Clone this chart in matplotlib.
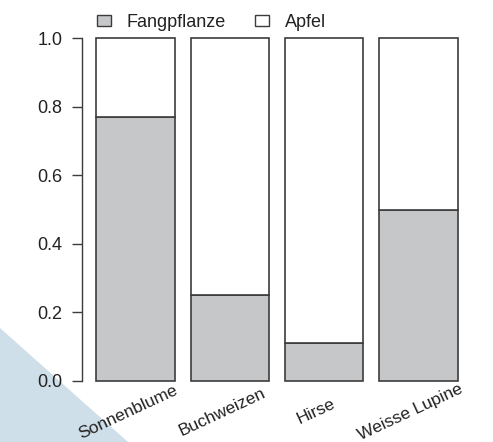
import matplotlib
matplotlib.use("Agg")
import matplotlib.pyplot as plt
from matplotlib.patches import Patch, Polygon
import numpy as np

# data
kategorien = ["Sonnenblume", "Buchweizen", "Hirse", "Weisse Lupine"]
fangpflanze = [0.77, 0.25, 0.11, 0.50]
apfel = [1 - v for v in fangpflanze]
y_ticks = [0.0, 0.2, 0.4, 0.6, 0.8, 1.0]
serien = ["Fangpflanze", "Apfel"]

plt.rcParams['font.family'] = ['Liberation Sans', 'DejaVu Sans']

W, H = 493, 442
fig = plt.figure(figsize=(W / 100, H / 100), dpi=100)

# dekoratives Dreieck unten links (hinter allem)
tri = Polygon([[0, H - 328], [128, 0], [0, 0]], closed=True,
              transform=None, facecolor='#cfdfe9', edgecolor='none', zorder=-1)
fig.patches.append(tri)

ax = fig.add_axes([82 / W, (H - 394.7) / H, 390 / W, 370.4 / H])
ax.patch.set_alpha(0)

grau = '#c6c7c9'
rand = '#3c3c3c'
txt = '#222222'
x = 0.2 + np.arange(len(kategorien)) * 1.2 + 0.5
ax.bar(x, fangpflanze, width=1.0, color=grau, edgecolor=rand, linewidth=1.2)
ax.bar(x, apfel, bottom=fangpflanze, width=1.0, color='white', edgecolor=rand, linewidth=1.2)

ax.set_xlim(0.016, 4.984)
ax.set_ylim(-0.04, 1.04)
for s in ['top', 'right', 'bottom']:
    ax.spines[s].set_visible(False)
ax.spines['left'].set_bounds(0, 1)
ax.spines['left'].set_color(rand)
ax.spines['left'].set_linewidth(1.0)
ax.set_yticks(y_ticks)
ax.set_yticklabels([f"{v:.1f}" for v in y_ticks])
ax.tick_params(axis='y', length=7.2, width=1.0, color=rand, pad=7, labelsize=13, labelcolor=txt)
ax.set_xticks([])

# schräge Kategorienbeschriftung
for xi, lab in zip(x, kategorien):
    ax.text(xi - 0.1, -0.046, lab, transform=ax.get_xaxis_transform(),
            rotation=25, ha='center', va='center', fontsize=12.5, color=txt,
            rotation_mode='anchor')

# Legende oben
handles = [Patch(facecolor=grau, edgecolor=rand, linewidth=1.0),
           Patch(facecolor='white', edgecolor=rand, linewidth=1.0)]
fig.legend(handles, serien, loc='center left', bbox_to_anchor=(97 / W, (H - 22.5) / H),
           ncol=2, frameon=False, fontsize=13, handlelength=0.8, handleheight=0.5,
           handletextpad=0.85, columnspacing=1.6, labelcolor=txt,
           borderpad=0, borderaxespad=0)

fig.savefig("out.png", dpi=100)
